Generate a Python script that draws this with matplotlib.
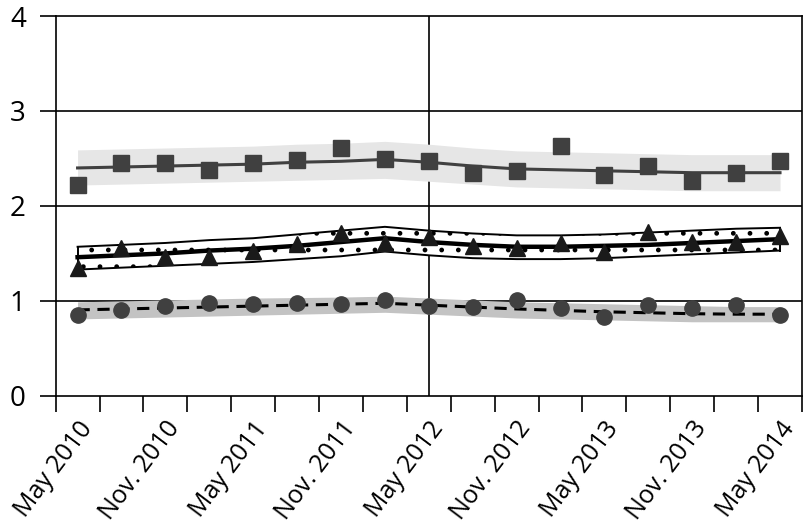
import matplotlib.pyplot as plt
import matplotlib.transforms as mtransforms
import numpy as np

# quarterly axis: tick 0 = Feb 2010 ... tick 17 = May 2014
tick_labels = ["May 2010", "Nov. 2010", "May 2011", "Nov. 2011", "May 2012",
               "Nov. 2012", "May 2013", "Nov. 2013", "May 2014"]

sq = [2.22, 2.45, 2.45, 2.38, 2.45, 2.48, 2.61, 2.49, 2.47, 2.35, 2.37, 2.63,
      2.33, 2.42, 2.26, 2.35, 2.47]
sq_fit = [2.40, 2.41, 2.42, 2.43, 2.44, 2.46, 2.47, 2.49, 2.46, 2.42, 2.39, 2.38,
          2.37, 2.36, 2.35, 2.35, 2.35]
sq_lo = [2.22, 2.23, 2.24, 2.25, 2.26, 2.27, 2.28, 2.29, 2.26, 2.23, 2.20, 2.19,
         2.18, 2.17, 2.16, 2.16, 2.16]
sq_hi = [2.59, 2.60, 2.61, 2.62, 2.63, 2.65, 2.66, 2.68, 2.65, 2.61, 2.58, 2.57,
         2.56, 2.55, 2.54, 2.54, 2.54]

tri = [1.35, 1.56, 1.46, 1.46, 1.53, 1.60, 1.72, 1.61, 1.67, 1.58, 1.56, 1.61,
       1.52, 1.73, 1.62, 1.62, 1.68]
tri_fit = [1.46, 1.48, 1.50, 1.53, 1.55, 1.58, 1.62, 1.66, 1.62, 1.59, 1.57, 1.57,
           1.58, 1.59, 1.61, 1.63, 1.65]
tri_lo = [1.33, 1.35, 1.37, 1.39, 1.41, 1.44, 1.47, 1.52, 1.48, 1.45, 1.44, 1.44,
          1.45, 1.47, 1.49, 1.51, 1.53]
tri_hi = [1.57, 1.59, 1.61, 1.64, 1.66, 1.70, 1.74, 1.78, 1.74, 1.71, 1.69, 1.69,
          1.70, 1.72, 1.74, 1.76, 1.77]

circ = [0.85, 0.90, 0.95, 0.98, 0.97, 0.98, 0.97, 1.01, 0.95, 0.94, 1.01, 0.93,
        0.83, 0.96, 0.92, 0.96, 0.85]
circ_fit = [0.905, 0.915, 0.925, 0.935, 0.945, 0.955, 0.965, 0.975, 0.955, 0.935,
            0.915, 0.90, 0.885, 0.875, 0.865, 0.86, 0.86]
circ_lo = [0.81, 0.82, 0.83, 0.84, 0.85, 0.86, 0.87, 0.88, 0.86, 0.84, 0.82, 0.81,
           0.80, 0.79, 0.78, 0.78, 0.78]
circ_hi = [0.99, 1.00, 1.01, 1.02, 1.03, 1.035, 1.04, 1.05, 1.03, 1.01, 0.99, 0.98,
           0.97, 0.96, 0.95, 0.94, 0.94]

x = np.arange(len(sq)) + 0.5
split = 8.5

plt.rcParams['font.family'] = ['Open Sans', 'DejaVu Sans']
fig = plt.figure(figsize=(8.06, 5.25), dpi=100)
ax = fig.add_axes([0.069, 0.246, 0.926, 0.7235])

# bands
ax.fill_between(x, sq_lo, sq_hi, color='#e6e6e6', lw=0, zorder=1)
ax.fill_between(x, circ_lo, circ_hi, color='#c3c3c3', lw=0, zorder=1)
ax.fill_between(x, tri_lo, tri_hi, facecolor='white', edgecolor='black',
                hatch='.', lw=0, zorder=1)
ax.plot(x, tri_lo, color='black', lw=1.4, zorder=2)
ax.plot(x, tri_hi, color='black', lw=1.4, zorder=2)
ax.plot([x[0], x[0]], [tri_lo[0], tri_hi[0]], color='black', lw=1.4, zorder=2)
ax.plot([x[-1], x[-1]], [tri_lo[-1], tri_hi[-1]], color='black', lw=1.4, zorder=2)

# fits
ax.plot(x, sq_fit, color='#404040', lw=2.2, zorder=3)
ax.plot(x, tri_fit, color='black', lw=3.2, zorder=3)
ax.plot(x, circ_fit, color='black', lw=2.2, ls=(0, (4, 2.5)), zorder=3)

# points
ax.plot(x, sq, 's', color='#404040', ms=11, zorder=4)
ax.plot(x, tri, '^', color='#1a1a1a', ms=12, zorder=4)
ax.plot(x, circ, 'o', color='#404040', ms=11, zorder=4)

for yv in [1, 2, 3]:
    ax.axhline(yv, color='black', lw=1.2, zorder=0)
ax.axvline(split, color='black', lw=1.2, zorder=0)

ax.set_xlim(0, 17)
ax.set_ylim(0, 4)
ax.set_yticks([0, 1, 2, 3, 4])
ax.set_xticks(np.arange(0, 18))
labels = []
for i in range(18):
    labels.append(tick_labels[(i - 1) // 2] if i % 2 == 1 else '')
ax.set_xticklabels(labels, rotation=53, ha='right', va='top',
                   rotation_mode='anchor')
ax.tick_params(axis='both', length=11.5, width=1.2, color='black')
ax.tick_params(axis='y', pad=10, labelsize=20)
ax.tick_params(axis='x', pad=2, labelsize=18)
offset = mtransforms.ScaledTranslation(-22 / 100, -2 / 100, fig.dpi_scale_trans)
for lab in ax.get_xticklabels():
    lab.set_transform(lab.get_transform() + offset)
for s in ax.spines.values():
    s.set_linewidth(1.2)

fig.savefig('out.png', dpi=100)
